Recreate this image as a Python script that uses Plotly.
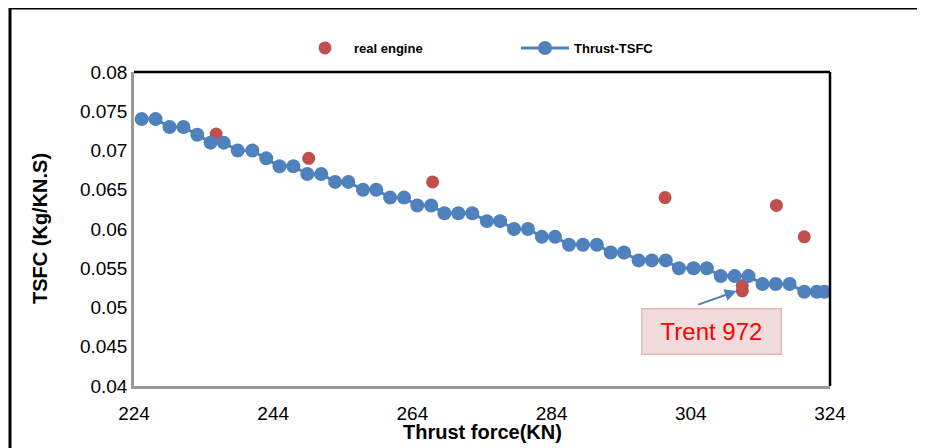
import plotly.graph_objects as go

# Thrust-TSFC curve (model)
thrust = [225.1, 227.1, 229.1, 231.1, 233.1, 235.0, 236.9, 238.9, 241.0, 243.0,
          244.9, 246.9, 248.9, 250.9, 252.9, 254.8, 256.9, 258.8, 260.8, 262.8,
          264.7, 266.7, 268.6, 270.6, 272.6, 274.7, 276.6, 278.6, 280.6, 282.6,
          284.5, 286.5, 288.5, 290.5, 292.5, 294.4, 296.5, 298.4, 300.4, 302.3,
          304.4, 306.3, 308.3, 310.3, 312.3, 314.3, 316.2, 318.2, 320.3, 322.1,
          323.2]
tsfc = [0.074, 0.074, 0.073, 0.073, 0.072, 0.071, 0.071, 0.070, 0.070, 0.069,
        0.068, 0.068, 0.067, 0.067, 0.066, 0.066, 0.065, 0.065, 0.064, 0.064,
        0.063, 0.063, 0.062, 0.062, 0.062, 0.061, 0.061, 0.060, 0.060, 0.059,
        0.059, 0.058, 0.058, 0.058, 0.057, 0.057, 0.056, 0.056, 0.056, 0.055,
        0.055, 0.055, 0.054, 0.054, 0.054, 0.053, 0.053, 0.053, 0.052, 0.052,
        0.052]

# real engines
real_thrust = [235.8, 249.1, 266.9, 300.3, 311.4, 311.4, 316.3, 320.3]
real_tsfc = [0.0721, 0.069, 0.066, 0.064, 0.0528, 0.0521, 0.063, 0.059]
trent_idx = 5

x_ticks = [224, 244, 264, 284, 304, 324]
y_ticks = [0.04, 0.045, 0.05, 0.055, 0.06, 0.065, 0.07, 0.075, 0.08]
y_labels = ['0.04', '0.045', '0.05', '0.055', '0.06', '0.065', '0.07', '0.075', '0.08']

BLUE = '#4F81BD'
RED = '#C0504D'
FONT = 'Liberation Sans, Arial, sans-serif'

fig = go.Figure()
fig.add_trace(go.Scatter(x=real_thrust, y=real_tsfc, mode='markers', name='real engine',
                         marker=dict(color=RED, size=13)))
fig.add_trace(go.Scatter(x=thrust, y=tsfc, mode='lines+markers', name='Thrust-TSFC',
                         line=dict(color=BLUE, width=3),
                         marker=dict(color=BLUE, size=14)))

# plot area in page pixels: x 134-830, y 72-386 (page has an 8px body margin)
W, H = 925, 448
OFF = 8
L, R, T, B = 134, 830, 72, 386
pw, ph = R - L, B - T


def px(x):
    return (x - L) / pw


def py(y):
    return (B - y) / ph


fig.update_layout(
    width=W, height=H,
    margin=dict(l=L - OFF, r=W - R + OFF, t=T - OFF, b=H - B + OFF),
    paper_bgcolor='white', plot_bgcolor='white',
    font=dict(family=FONT, color='black'),
    showlegend=True,
    legend=dict(orientation='h', x=px(296), xanchor='left', y=py(48), yanchor='middle',
                font=dict(size=13, family=FONT, weight='bold'),
                entrywidth=157, itemwidth=48, bgcolor='rgba(0,0,0,0)'),
    xaxis=dict(range=[224, 324], tickvals=x_ticks, showgrid=False, zeroline=False,
               showline=True, linecolor='#9a9a9a', linewidth=2.5, ticks='',
               tickfont=dict(size=19), ticklabelstandoff=8),
    yaxis=dict(range=[0.04, 0.08], tickvals=y_ticks, ticktext=y_labels, showgrid=False,
               zeroline=False, showline=True, linecolor='#9a9a9a', linewidth=2.5,
               ticks='', tickfont=dict(size=19), ticklabelstandoff=0),
)

# black top/right borders of the plot area and outer chart frame
fig.add_shape(type='line', xref='paper', yref='paper', x0=0, x1=1, y0=1, y1=1,
              line=dict(color='black', width=2.5))
fig.add_shape(type='line', xref='paper', yref='paper', x0=1, x1=1, y0=0, y1=1,
              line=dict(color='black', width=2.5))
fig.add_shape(type='rect', xref='paper', yref='paper', x0=px(10), x1=px(960),
              y0=py(470), y1=py(8), line=dict(color='black', width=3))

# axis titles
fig.add_annotation(text='<b>Thrust force(KN)</b>', xref='paper', yref='paper',
                   x=0.5, y=py(432), xanchor='center', yanchor='middle',
                   showarrow=False, font=dict(size=20))
fig.add_annotation(text='<b>TSFC (Kg/KN.S)</b>', xref='paper', yref='paper',
                   x=px(40), y=0.5, xanchor='center', yanchor='middle', textangle=-90,
                   showarrow=False, font=dict(size=20))

# Trent 972 callout
fig.add_annotation(text='Trent 972', xref='paper', yref='paper',
                   x=px(711), y=py(331), xanchor='center', yanchor='middle',
                   showarrow=False, font=dict(size=24, color='#FF0000'),
                   bgcolor='#F2DCDB', bordercolor='#E6B9B8', borderwidth=1.5,
                   width=136, height=42, align='center')
fig.add_annotation(text='', x=real_thrust[trent_idx] - 0.8, y=real_tsfc[trent_idx],
                   ax=304.85, ay=0.0503, axref='x', ayref='y', xref='x', yref='y',
                   showarrow=True, arrowhead=2, arrowsize=1.2, arrowwidth=2,
                   arrowcolor=BLUE)

fig.write_html('out.html')
